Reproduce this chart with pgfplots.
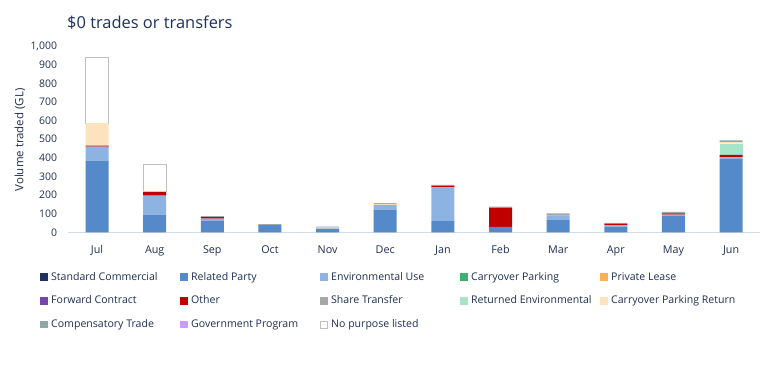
\documentclass[border=0pt]{standalone}
\usepackage{pgfplots}
\pgfplotsset{compat=1.18}
\usepackage{pgfplotstable}
\usepackage{fontspec}
\setmainfont{Open Sans}
\definecolor{navy}{HTML}{1F2D50}
\definecolor{titlec}{HTML}{1F3060}
\definecolor{axisc}{HTML}{D3DCE2}
\definecolor{cSC}{HTML}{1F3360}
\definecolor{cRP}{HTML}{5489CA}
\definecolor{cEU}{HTML}{8DB3E2}
\definecolor{cCP}{HTML}{3BB273}
\definecolor{cPL}{HTML}{F9B155}
\definecolor{cFC}{HTML}{7446A8}
\definecolor{cOT}{HTML}{C00000}
\definecolor{cST}{HTML}{A6A6A6}
\definecolor{cRE}{HTML}{A8E4C8}
\definecolor{cCR}{HTML}{FCE3BE}
\definecolor{cCT}{HTML}{8FA8A5}
\definecolor{cGP}{HTML}{CC99FF}
\definecolor{cNP}{HTML}{BFBFBF}
\pgfplotstableread{
x SC RP EU CP PL FC OT ST RE CR CT GP
0 0 385 76 0 0 0 5 0 0 120 0 0
1 0 96 102 0 0 0 20 0 0 5 0 0
2 0 61 14 0 0 0 8 5 0 0 0 0
3 0 39 0 0 0 0 0 6 0 0 0 0
4 0 21 0 0 0 0 0 0 0 5 6 0
5 0 123 25 0 0 0 0 0 0 6 4 0
6 0 61 181 0 0 0 9 5 0 0 0 0
7 0 30 0 0 0 0 102 7 0 0 0 0
8 0 66 25 0 0 0 0 12 0 0 0 0
9 0 32 7 0 0 0 8 5 0 0 0 0
10 0 91 5 0 0 0 7 7 0 0 0 0
11 0 396 8 0 0 0 12 0 60 8 10 0
}\data
\pgfplotsset{sq/.style={fill=#1, draw=none, legend image code/.code={\fill[#1] (0bp,-3.75bp) rectangle (7.5bp,3.75bp);}}}
\newcommand{\lt}[1]{\makebox[125.5bp][l]{#1}}
\begin{document}
\begin{tikzpicture}
\path[use as bounding box] (0bp,0bp) rectangle (778bp,366bp);
\node[anchor=base west, inner sep=0pt, text=titlec, font=\fontsize{16.5}{20}\selectfont] at (67bp,337bp) {\$0 trades or transfers};
\node[rotate=90, inner sep=0pt, text=navy, font=\fontsize{11.5}{14}\selectfont] at (20bp,226bp) {Volume traded (GL)};
\begin{axis}[
  at={(68.2bp,133.5bp)}, anchor=south west,
  scale only axis, width=691.7bp, height=186.5bp,
  ybar stacked, bar width=23bp,
  xmin=-0.5, xmax=11.5, ymin=0, ymax=1000,
  xtick={0,...,11},
  xticklabels={Jul,Aug,Sep,Oct,Nov,Dec,Jan,Feb,Mar,Apr,May,Jun},
  ytick={0,100,...,1000},
  axis x line=bottom, axis y line=left,
  x axis line style={draw=axisc, line width=1bp, -},
  y axis line style={draw=none},
  major tick length=0pt, tick style={draw=none},
  /pgf/number format/assume math mode=true,
  /pgf/number format/1000 sep={,},
  yticklabel style={anchor=east, inner sep=0pt, xshift=-11bp, text=navy, font=\fontsize{10.5}{12}\selectfont},
  xticklabel style={anchor=base, inner sep=0pt, yshift=-21.5bp, text=navy, font=\fontsize{10.8}{13}\selectfont},
  legend columns=5,
  legend cell align=left,
  legend style={at={(-0.0408,-0.2064)}, anchor=north west, draw=none, fill=none, inner sep=0pt,
    column sep=3.5bp, row sep=11.7bp,
    nodes={inner sep=0pt, text height=9bp, text depth=3bp, text=navy, font=\fontsize{10.6}{13}\selectfont}},
]
\addplot[sq=cSC] table[x=x,y=SC]{\data};
\addlegendentry{\lt{Standard Commercial}}
\addplot[sq=cRP] table[x=x,y=RP]{\data};
\addlegendentry{\lt{Related Party}}
\addplot[sq=cEU] table[x=x,y=EU]{\data};
\addlegendentry{\lt{Environmental Use}}
\addplot[sq=cCP] table[x=x,y=CP]{\data};
\addlegendentry{\lt{Carryover Parking}}
\addplot[sq=cPL] table[x=x,y=PL]{\data};
\addlegendentry{\lt{Private Lease}}
\addplot[sq=cFC] table[x=x,y=FC]{\data};
\addlegendentry{\lt{Forward Contract}}
\addplot[sq=cOT] table[x=x,y=OT]{\data};
\addlegendentry{\lt{Other}}
\addplot[sq=cST] table[x=x,y=ST]{\data};
\addlegendentry{\lt{Share Transfer}}
\addplot[sq=cRE] table[x=x,y=RE]{\data};
\addlegendentry{\lt{Returned Environmental}}
\addplot[sq=cCR] table[x=x,y=CR]{\data};
\addlegendentry{\lt{Carryover Parking Return}}
\addplot[sq=cCT] table[x=x,y=CT]{\data};
\addlegendentry{\lt{Compensatory Trade}}
\addplot[sq=cGP] table[x=x,y=GP]{\data};
\addlegendentry{\lt{Government Program}}
\addplot[fill=white, draw=cNP, line width=0.8bp,
  legend image code/.code={\draw[draw=cNP, fill=white, line width=0.6bp] (0.3bp,-3.45bp) rectangle (7.2bp,3.45bp);}]
  coordinates {(0,351) (1,142)};
\addlegendentry{\lt{No purpose listed}}
\end{axis}
\end{tikzpicture}
\end{document}
